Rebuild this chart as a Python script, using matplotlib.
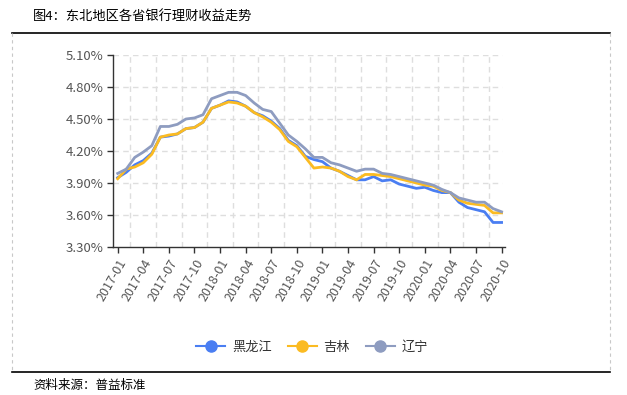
import matplotlib.pyplot as plt
import numpy as np
from matplotlib.lines import Line2D

plt.rcParams['font.family'] = ['Noto Sans CJK SC', 'DejaVu Sans']

months = [f"{y}-{m:02d}" for y in range(2017, 2021) for m in range(1, 13)][:46]

# 黑龙江
hlj = [3.95, 4.00, 4.07, 4.11, 4.18, 4.33, 4.34, 4.36, 4.41, 4.42,
       4.47, 4.60, 4.63, 4.67, 4.66, 4.62, 4.56, 4.53, 4.48, 4.41,
       4.30, 4.25, 4.15, 4.12, 4.10, 4.04, 4.01, 3.97, 3.93, 3.93,
       3.96, 3.92, 3.93, 3.89, 3.87, 3.85, 3.86, 3.83, 3.81, 3.81,
       3.72, 3.67, 3.65, 3.63, 3.53, 3.53]
# 吉林
jl = [3.94, 4.03, 4.05, 4.09, 4.17, 4.33, 4.35, 4.36, 4.41, 4.42,
      4.47, 4.60, 4.63, 4.66, 4.65, 4.62, 4.56, 4.52, 4.47, 4.40,
      4.29, 4.24, 4.14, 4.04, 4.05, 4.04, 4.01, 3.96, 3.93, 3.98,
      3.98, 3.97, 3.96, 3.94, 3.92, 3.90, 3.88, 3.87, 3.83, 3.81,
      3.74, 3.71, 3.70, 3.69, 3.62, 3.62]
# 辽宁
ln = [3.99, 4.03, 4.14, 4.19, 4.25, 4.43, 4.43, 4.45, 4.50, 4.51,
      4.54, 4.69, 4.72, 4.75, 4.75, 4.72, 4.65, 4.59, 4.57, 4.46,
      4.35, 4.29, 4.22, 4.14, 4.14, 4.09, 4.07, 4.04, 4.01, 4.03,
      4.03, 3.99, 3.98, 3.96, 3.94, 3.92, 3.90, 3.88, 3.84, 3.81,
      3.76, 3.74, 3.72, 3.72, 3.66, 3.63]

series_names = ['黑龙江', '吉林', '辽宁']
colors = ['#4a7ef2', '#fbbb22', '#8e9cc0']
yticks = [3.30, 3.60, 3.90, 4.20, 4.50, 4.80, 5.10]

W, H = 627, 395
fig = plt.figure(figsize=(W / 100, H / 100), dpi=100)
ax = fig.add_axes([113 / W, 1 - 247 / H, (505 - 113) / W, (247 - 55) / H])

x = np.arange(len(months))
for xv in np.arange(1.5, 45, 3):
    ax.axvline(xv, color='#dedede', ls=(0, (4, 3)), lw=1, zorder=0)
for yv in yticks[1:]:
    ax.hlines(yv, -0.55, 45, color='#dedede', ls=(0, (4, 3)), lw=1, zorder=0)

for data, c in zip([hlj, jl, ln], colors):
    ax.plot(x, data, color=c, lw=2, zorder=3)

ax.set_xlim(-0.55, 45.4)
ax.set_ylim(3.30, 5.10)
ax.set_yticks(yticks)
ax.set_yticklabels([f"{v:.2f}%" for v in yticks], fontsize=9.5, color='#555555')
ax.set_xticks(x[::3])
ax.set_xticklabels(months[::3], rotation=60, ha='right', rotation_mode='anchor',
                   fontsize=9, color='#555555')
ax.tick_params(axis='both', length=4, width=1, color='#333333', pad=3)
for s in ['top', 'right']:
    ax.spines[s].set_visible(False)
for s in ['left', 'bottom']:
    ax.spines[s].set_color('#333333')
    ax.spines[s].set_linewidth(1)

handles = [Line2D([], [], color=c, lw=1.5, marker='o', markersize=8) for c in colors]
fig.legend(handles, series_names, loc='center', ncol=3, frameon=False,
           bbox_to_anchor=(312 / W, 1 - 347 / H), fontsize=9.5, handlelength=2.2,
           columnspacing=1.2, handletextpad=0.5, labelcolor='#333333')

fig.text(33 / W, 1 - 17 / H, '图4：东北地区各省银行理财收益走势', fontsize=9.5, va='center')
fig.text(33 / W, 1 - 385 / H, '资料来源：普益标准', fontsize=9, va='center')

fig.add_artist(Line2D([12 / W, 610 / W], [1 - 33 / H] * 2, color='black', lw=1.2))
fig.add_artist(Line2D([12 / W, 610 / W], [1 - 372 / H] * 2, color='black', lw=1.2))
for xb in [12, 610]:
    fig.add_artist(Line2D([xb / W] * 2, [1 - 33 / H, 1 - 372 / H], color='#c8c8c8',
                          ls=(0, (3, 3)), lw=0.8))

fig.savefig('out.png', dpi=100)
